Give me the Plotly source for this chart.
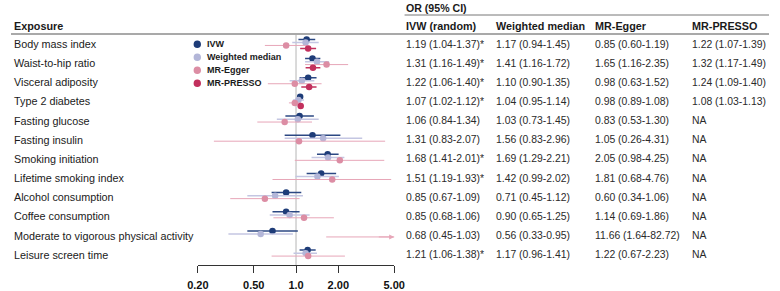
import math
import plotly.graph_objects as go

# ---------------- data ----------------
exposures = ["Body mass index", "Waist-to-hip ratio", "Visceral adiposity", "Type 2 diabetes",
             "Fasting glucose", "Fasting insulin", "Smoking initiation", "Lifetime smoking index",
             "Alcohol consumption", "Coffee consumption", "Moderate to vigorous physical activity",
             "Leisure screen time"]

ivw = [1.19, 1.31, 1.22, 1.07, 1.06, 1.31, 1.68, 1.51, 0.85, 0.85, 0.68, 1.21]
ivw_lo = [1.04, 1.16, 1.06, 1.02, 0.84, 0.83, 1.41, 1.19, 0.67, 0.68, 0.45, 1.06]
ivw_hi = [1.37, 1.49, 1.40, 1.12, 1.34, 2.07, 2.01, 1.93, 1.09, 1.06, 1.03, 1.38]
ivw_sig = [True, True, True, True, False, False, True, True, False, False, False, True]

wm = [1.17, 1.41, 1.10, 1.04, 1.03, 1.56, 1.69, 1.42, 0.71, 0.90, 0.56, 1.17]
wm_lo = [0.94, 1.16, 0.90, 0.95, 0.73, 0.83, 1.29, 0.99, 0.45, 0.65, 0.33, 0.96]
wm_hi = [1.45, 1.72, 1.35, 1.14, 1.45, 2.96, 2.21, 2.02, 1.12, 1.25, 0.95, 1.41]

egger = [0.85, 1.65, 0.98, 0.98, 0.83, 1.05, 2.05, 1.81, 0.60, 1.14, 11.66, 1.22]
egger_lo = [0.60, 1.16, 0.63, 0.89, 0.53, 0.26, 0.98, 0.68, 0.34, 0.69, 1.64, 0.67]
egger_hi = [1.19, 2.35, 1.52, 1.08, 1.30, 4.31, 4.25, 4.76, 1.06, 1.86, 82.72, 2.23]

presso = [1.22, 1.32, 1.24, 1.08, None, None, None, None, None, None, None, None]
presso_lo = [1.07, 1.17, 1.09, 1.03, None, None, None, None, None, None, None, None]
presso_hi = [1.39, 1.49, 1.40, 1.13, None, None, None, None, None, None, None, None]

tick_vals = [0.2, 0.5, 1.0, 2.0, 5.0]
tick_text = ["0.20", "0.50", "1.0", "2.00", "5.00"]

methods = ["IVW", "Weighted median", "MR-Egger", "MR-PRESSO"]
col_headers = ["IVW (random)", "Weighted median", "MR-Egger", "MR-PRESSO"]

# ---------------- styling ----------------
W, H = 780, 291
FONT = "Arial, Liberation Sans, sans-serif"
pt_colors = ["#1E3C78", "#B3B6D8", "#DC8DA4", "#C2305D"]
ln_colors = ["#2C4883", "#C4C6E2", "#E7A6B8", "#C2305D"]
ln_widths = [1.5, 1.5, 1.0, 1.5]
offsets = [-0.24, -0.075, 0.075, 0.24]

ROW0_PX, ROW_PX = 44.0, 19.15          # pixel centre of row 0 and row pitch
AXIS_PX = 265.0                        # pixel position of x-axis line
XL_PX, XR_PX = 192.3, 394.3            # pixel extent of x-axis


def v(px):  # pixel y -> row-unit y value
    return (px - ROW0_PX) / ROW_PX


def xp(px):
    return px / W


def yp(py):
    return 1 - py / H


fig = go.Figure()

# reference line at OR = 1
fig.add_trace(go.Scatter(x=[1, 1], y=[v(35), v(AXIS_PX)], mode="lines",
                         line=dict(color="#B5B5B5", width=1), hoverinfo="skip"))

series = [(ivw, ivw_lo, ivw_hi), (wm, wm_lo, wm_hi), (egger, egger_lo, egger_hi),
          (presso, presso_lo, presso_hi)]
xmax = tick_vals[-1]
arrows = []
for k, (est, lo, hi) in enumerate(series):
    xs, ys, px_, py_ = [], [], [], []
    for i in range(len(exposures)):
        if est[i] is None:
            continue
        yy = i + offsets[k]
        xs += [lo[i], min(hi[i], xmax * 1.5), None]
        ys += [yy, yy, None]
        px_.append(est[i])
        py_.append(yy)
        if hi[i] > xmax:
            arrows.append((yy, lo[i], k))
    fig.add_trace(go.Scatter(x=xs, y=ys, mode="lines",
                             line=dict(color=ln_colors[k], width=ln_widths[k]),
                             hoverinfo="skip"))
    fig.add_trace(go.Scatter(x=px_, y=py_, mode="markers",
                             marker=dict(color=pt_colors[k], size=6.5, line=dict(width=0)),
                             name=methods[k], cliponaxis=True))

annotations = []
for yy, lo, k in arrows:
    annotations.append(dict(x=math.log10(xmax), y=yy, xref="x", yref="y",
                            ax=math.log10(xmax) - 0.12, ay=yy, axref="x", ayref="y",
                            showarrow=True, arrowhead=2, arrowsize=1.0, arrowwidth=1,
                            arrowcolor=ln_colors[k], text=""))

# row labels
for i, name in enumerate(exposures):
    annotations.append(dict(x=xp(3), y=i, xref="paper", yref="y", text=name,
                            showarrow=False, xanchor="left", yanchor="middle",
                            borderpad=0, borderwidth=0,
                            font=dict(family=FONT, size=10.8, color="#1A1A1A")))

# table values
col_x = [406, 499.5, 600.5, 700.5]
for i in range(len(exposures)):
    cells = []
    for k, (est, lo, hi) in enumerate(series):
        if est[i] is None:
            cells.append("NA")
        else:
            s = f"{est[i]:.2f} ({lo[i]:.2f}-{hi[i]:.2f})"
            if k == 0 and ivw_sig[i]:
                s += "*"
            cells.append(s)
    for k, s in enumerate(cells):
        annotations.append(dict(x=xp(col_x[k]), y=i, xref="paper", yref="y", text=s,
                                showarrow=False, xanchor="left", yanchor="middle",
                                borderpad=0, borderwidth=0,
                                font=dict(family=FONT, size=10.4, color="#2A2A2A")))

# headers
annotations.append(dict(x=xp(3), y=v(25.5), xref="paper", yref="y", text="<b>Exposure</b>",
                        showarrow=False, xanchor="left", yanchor="middle",
                        borderpad=0, borderwidth=0,
                        font=dict(family=FONT, size=10.8, color="#1A1A1A")))
annotations.append(dict(x=xp(406), y=v(7.5), xref="paper", yref="y", text="<b>OR (95% CI)</b>",
                        showarrow=False, xanchor="left", yanchor="middle",
                        borderpad=0, borderwidth=0,
                        font=dict(family=FONT, size=10.6, color="#1A1A1A")))
for k, h in enumerate(col_headers):
    annotations.append(dict(x=xp(col_x[k]), y=v(25.5), xref="paper", yref="y",
                            text=f"<b>{h}</b>", showarrow=False, xanchor="left",
                            yanchor="middle", borderpad=0, borderwidth=0,
                            font=dict(family=FONT, size=10.8, color="#1A1A1A")))

# legend (manual, compact)
shapes = []
leg_y = [44.3, 57.3, 70.3, 83.3]
for k, m in enumerate(methods):
    r = 3.8
    shapes.append(dict(type="circle", xref="paper", yref="paper",
                       x0=xp(191.7 - r), x1=xp(191.7 + r),
                       y0=yp(leg_y[k] + r), y1=yp(leg_y[k] - r),
                       fillcolor=pt_colors[k], line=dict(width=0)))
    annotations.append(dict(x=xp(201.5), y=yp(leg_y[k]), xref="paper", yref="paper",
                            text=f"<b>{m}</b>", showarrow=False, xanchor="left",
                            yanchor="middle", borderpad=0, borderwidth=0,
                            font=dict(family=FONT, size=9, color="#1A1A1A")))

# horizontal rules
shapes.append(dict(type="line", xref="paper", yref="paper", x0=0, x1=1,
                   y0=yp(34), y1=yp(34), line=dict(color="#555555", width=1.2)))
shapes.append(dict(type="line", xref="paper", yref="paper", x0=xp(405), x1=1,
                   y0=yp(15), y1=yp(15), line=dict(color="#777777", width=1)))

fig.update_layout(
    width=W, height=H, margin=dict(l=0, r=0, t=0, b=0),
    paper_bgcolor="white", plot_bgcolor="white", showlegend=False,
    hovermode=False,
    annotations=annotations, shapes=shapes,
    xaxis=dict(type="log", domain=[xp(XL_PX), xp(XR_PX)],
               range=[math.log10(tick_vals[0]), math.log10(tick_vals[-1])],
               tickvals=tick_vals, ticktext=[f"<b>{t}</b>" for t in tick_text],
               ticks="outside", ticklen=7, tickwidth=1, tickcolor="#333333",
               showline=True, linecolor="#333333", linewidth=1, showgrid=False,
               zeroline=False, ticklabelstandoff=3,
               tickfont=dict(family=FONT, size=11, color="#111111")),
    yaxis=dict(domain=[1 - AXIS_PX / H, 1], range=[v(AXIS_PX), v(0)],
               showticklabels=False, showgrid=False, zeroline=False, showline=False,
               ticks=""),
)

fig.write_html("out.html",
               config={"displayModeBar": False, "staticPlot": True},
               post_script="document.body.style.margin='0px';"
                           "document.body.style.overflow='hidden';")
